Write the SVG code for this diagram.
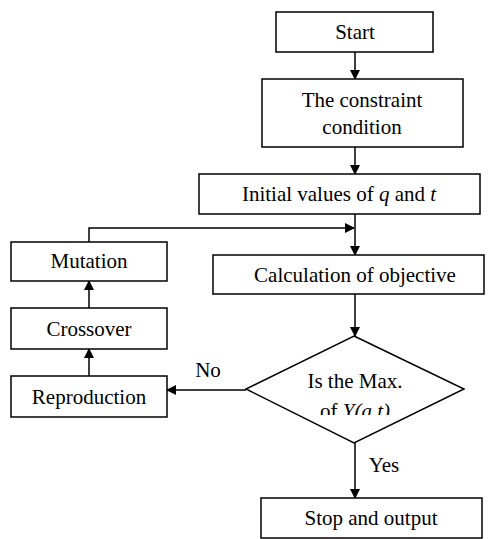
<svg xmlns="http://www.w3.org/2000/svg" width="491" height="539" viewBox="0 0 491 539">
<style>
.b{fill:#fff;stroke:#000;stroke-width:1.5}
.t{font-family:"Liberation Serif",serif;font-size:21px;fill:#000;text-anchor:middle;dominant-baseline:central}
.c{fill:none;stroke:#000;stroke-width:1.5}
</style>
<defs>
<marker id="a" markerWidth="10" markerHeight="10" refX="9" refY="5" orient="auto" markerUnits="userSpaceOnUse">
<path d="M0,0 L10,5 L0,10 z" fill="#000"/>
</marker>
<clipPath id="dc"><rect x="240" y="330" width="230" height="85"/></clipPath>
</defs>
<rect width="491" height="539" fill="#fff"/>
<g id="connectors">
<line class="c" x1="355" y1="52" x2="355" y2="79" marker-end="url(#a)"/>
<line class="c" x1="355" y1="147" x2="355" y2="174" marker-end="url(#a)"/>
<line class="c" x1="355" y1="214" x2="355" y2="255" marker-end="url(#a)"/>
<polyline class="c" points="89,242 89,228 354,228" marker-end="url(#a)"/>
<line class="c" x1="355" y1="294" x2="355" y2="336" marker-end="url(#a)"/>
<line class="c" x1="355" y1="443" x2="355" y2="498" marker-end="url(#a)"/>
<line class="c" x1="246" y1="390" x2="167" y2="390" marker-end="url(#a)"/>
<line class="c" x1="89" y1="376" x2="89" y2="349" marker-end="url(#a)"/>
<line class="c" x1="89" y1="308" x2="89" y2="281" marker-end="url(#a)"/>
<text class="t" x="208" y="370">No</text>
<text class="t" x="384" y="465">Yes</text>
</g>
<g id="start"><rect class="b" x="276" y="12" width="157" height="40"/><text class="t" x="355" y="32">Start</text></g>
<g id="constraint"><rect class="b" x="262" y="79" width="201" height="68"/><text class="t" x="362" y="100">The constraint</text><text class="t" x="362" y="127">condition</text></g>
<g id="initial"><rect class="b" x="199" y="174" width="281" height="40"/><text class="t" x="339" y="194">Initial values of <tspan font-style="italic">q</tspan> and <tspan font-style="italic">t</tspan></text></g>
<g id="calculation"><rect class="b" x="213" y="255" width="271" height="39"/><text class="t" x="355" y="275">Calculation of objective</text></g>
<g id="decision"><polygon class="b" points="354,336 464,389 354,443 246,389"/><g clip-path="url(#dc)"><text class="t" x="355" y="381">Is the Max.</text><text class="t" x="355" y="411">of <tspan font-style="italic">Y(a.t)</tspan></text></g></g>
<g id="stop"><rect class="b" x="261" y="498" width="221" height="40"/><text class="t" x="371" y="518">Stop and output</text></g>
<g id="mutation"><rect class="b" x="11" y="242" width="156" height="39"/><text class="t" x="89" y="261">Mutation</text></g>
<g id="crossover"><rect class="b" x="11" y="308" width="156" height="41"/><text class="t" x="89" y="329">Crossover</text></g>
<g id="reproduction"><rect class="b" x="11" y="376" width="156" height="41"/><text class="t" x="89" y="397">Reproduction</text></g>
</svg>
